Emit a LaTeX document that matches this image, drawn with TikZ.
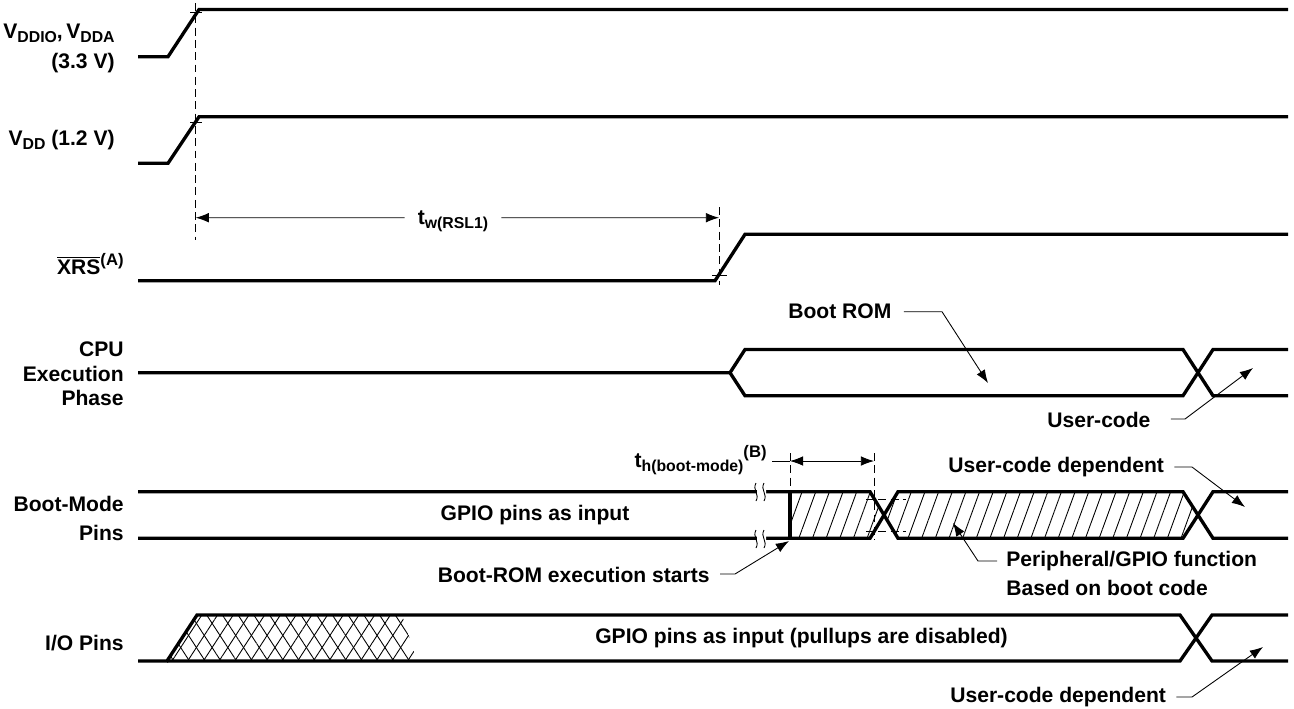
\documentclass[tikz,border=0pt]{standalone}
\usepackage{fontspec}
\setmainfont{Liberation Sans}
\usetikzlibrary{arrows.meta,patterns.meta}

\newcommand\lowtxt[1]{\raisebox{-2.4pt}{\fontsize{9}{10}\selectfont #1}}
\newcommand\uptxt[1]{\raisebox{5.5pt}{\fontsize{9.5}{10}\selectfont #1}}

\tikzset{
  sig/.style={line width=1.9pt},
  lead/.style={line width=0.5pt},
  guide/.style={line width=0.5pt, dash pattern=on 4.5pt off 2.5pt},
  signame/.style={font=\fontsize{12}{14}\selectfont\bfseries, anchor=east, align=right, inner sep=0pt},
  txt/.style={font=\fontsize{12}{14}\selectfont\bfseries, inner sep=0pt},
}

\begin{document}
\begin{tikzpicture}[x=0.02cm, y=-0.02cm, >={Latex[length=7.5pt,width=5.5pt]}]
	\useasboundingbox (0,0) rectangle (1294,708);
	% signal names
	\node[signame] (vddio) at (115,48) {V\lowtxt{DDIO},\,V\lowtxt{DDA}\\[3pt](3.3 V)};
	\node[signame] (vdd) at (115,140) {V\lowtxt{DD} (1.2 V)};
	\node[signame] (xrs) at (124,264) {$\overline{\hbox{XRS}}$\uptxt{(A)}};
	\node[signame] (cpu) at (124,374) {CPU\\Execution\\Phase};
	\node[signame] (bmp) at (124,518) {Boot-Mode\\[2.5pt]Pins};
	\node[signame] (iop) at (124,643) {I/O Pins};
	% supplies
	\draw [sig] (138,56.7) -- (168,56.7) -- (199,9.5) -- (1288,9.5);
	\draw [sig] (138,163.3) -- (168,163.3) -- (199,116.8) -- (1288,116.8);
	\draw [guide] (195.7,3) -- (195.7,240);
	\draw [lead] (190,12.7) -- (202,12.7);
	\draw [lead] (190,122) -- (202,122);
	% reset
	\draw [sig] (138,280.7) -- (715,280.7) -- (745,234.3) -- (1288,234.3);
	\draw [guide] (719,207) -- (719,285);
	\draw [lead] (712,275.5) -- (727,275.5);
	\node[txt] (tw) at (453,221) {t\lowtxt{w(RSL1)}};
	\draw [lead,->] (tw.west) ++(-13,-3.3) -- (195.7,217.7);
	\draw [lead,->] (tw.east) ++(13,-3.3) -- (719,217.7);
	% cpu phase
	\draw [sig] (138,372.7) -- (730,372.7) -- (745,349.5) -- (1183,349.5) -- (1213,395.7) -- (1288,395.7);
	\draw [sig] (730,372.7) -- (745,395.7) -- (1183,395.7) -- (1213,349.5) -- (1288,349.5);
	\node[txt, anchor=west] (rom) at (788,311.7) {Boot ROM};
	\coordinate (rom tip) at (988,383);
	\draw [lead,->] (rom.east) ++(12,0) -- (942,311.7) -- (rom tip);
	\node[txt, anchor=west] (uc) at (1047,420) {User-code};
	\coordinate (uc tip) at (1253,368);
	\draw [lead,->] (uc.east) ++(20,-1) -- (1185,419) -- (uc tip);
	% boot-mode pins
	\fill [pattern={Lines[angle=70,distance=7.3pt,line width=0.5pt]}]
		(790,491.7) -- (870,491.7) -- (884,515) -- (870,538.3) -- (790,538.3) -- cycle;
	\fill [pattern={Lines[angle=70,distance=7.3pt,line width=0.5pt]}]
		(884,515) -- (898,491.7) -- (1183,491.7) -- (1198,515) -- (1183,538.3) -- (898,538.3) -- cycle;
	\draw [sig] (138,491.7) -- (870,491.7) -- (898,538.3) -- (1183,538.3) -- (1213,491.7) -- (1288,491.7);
	\draw [sig] (138,538.3) -- (870,538.3) -- (898,491.7) -- (1183,491.7) -- (1213,538.3) -- (1288,538.3);
	\draw [sig] (790,491.7) -- (790,538.3);
	\fill [white] (757,488) rectangle (766,495) (757,535) rectangle (766,542);
	\draw [lead] (756,483) .. controls (752,490) and (760,494) .. (756,501)
		(764,483) .. controls (760,490) and (768,494) .. (764,501)
		(756,530) .. controls (752,537) and (760,541) .. (756,548)
		(764,530) .. controls (760,537) and (768,541) .. (764,548);
	\draw [guide] (790,453) -- (790,491.7);
	\draw [guide] (874,453) -- (874,540);
	\draw [guide] (866,499) -- (906,499) (866,531) -- (906,531);
	\node[txt] (gpio) at (535,515) {GPIO pins as input};
	\node[txt, anchor=east] (th) at (767,460) {t\lowtxt{h(boot-mode)}\uptxt{(B)}};
	\coordinate (hold a) at (790,461);
	\coordinate (hold b) at (874,461);
	\draw [lead] (th.east) ++(5,1) -- (hold a);
	\draw [lead,<->] (hold a) -- (hold b);
	\node[txt, anchor=east] (brs) at (710,575) {Boot-ROM execution starts};
	\coordinate (brs tip) at (789,541);
	\draw [lead,->] (brs.east) ++(10,-1) -- (735,574) -- (brs tip);
	\node[txt, anchor=west] (ucd) at (948,467) {User-code dependent};
	\coordinate (ucd tip) at (1245,507);
	\draw [lead,->] (ucd.east) ++(10,0) -- (1192,467) -- (ucd tip);
	\node[txt, anchor=west] (peri) at (1006,561) {Peripheral/GPIO function};
	\node[txt, anchor=west] (peri2) at (1006,588) {Based on boot code};
	\coordinate (peri tip) at (953,523);
	\draw [lead,->] (peri.west) ++(-9,0) -- (978,561) -- (peri tip);
	% i/o pins
	\begin{scope}
		\clip (167,661) -- (197,615) -- (402,615) -- (417,661) -- cycle;
		\fill [pattern={Lines[angle=57,distance=7.5pt,line width=0.5pt]}] (160,610) rectangle (420,665);
		\fill [pattern={Lines[angle=123,distance=7.5pt,line width=0.5pt]}] (160,610) rectangle (420,665);
	\end{scope}
	\draw [sig] (138,661) -- (167,661) -- (197,615) -- (1180,615) -- (1212,661) -- (1288,661);
	\draw [sig] (167,661) -- (1180,661) -- (1212,615) -- (1288,615);
	\node[txt, anchor=east] (gpio2) at (1008,638) {GPIO pins as input (pullups are disabled)};
	\node[txt, anchor=west] (ucd2) at (950,697) {User-code dependent};
	\coordinate (ucd2 tip) at (1263,647);
	\draw [lead,->] (ucd2.east) ++(10,0) -- (1192,697) -- (ucd2 tip);
\end{tikzpicture}
\end{document}
